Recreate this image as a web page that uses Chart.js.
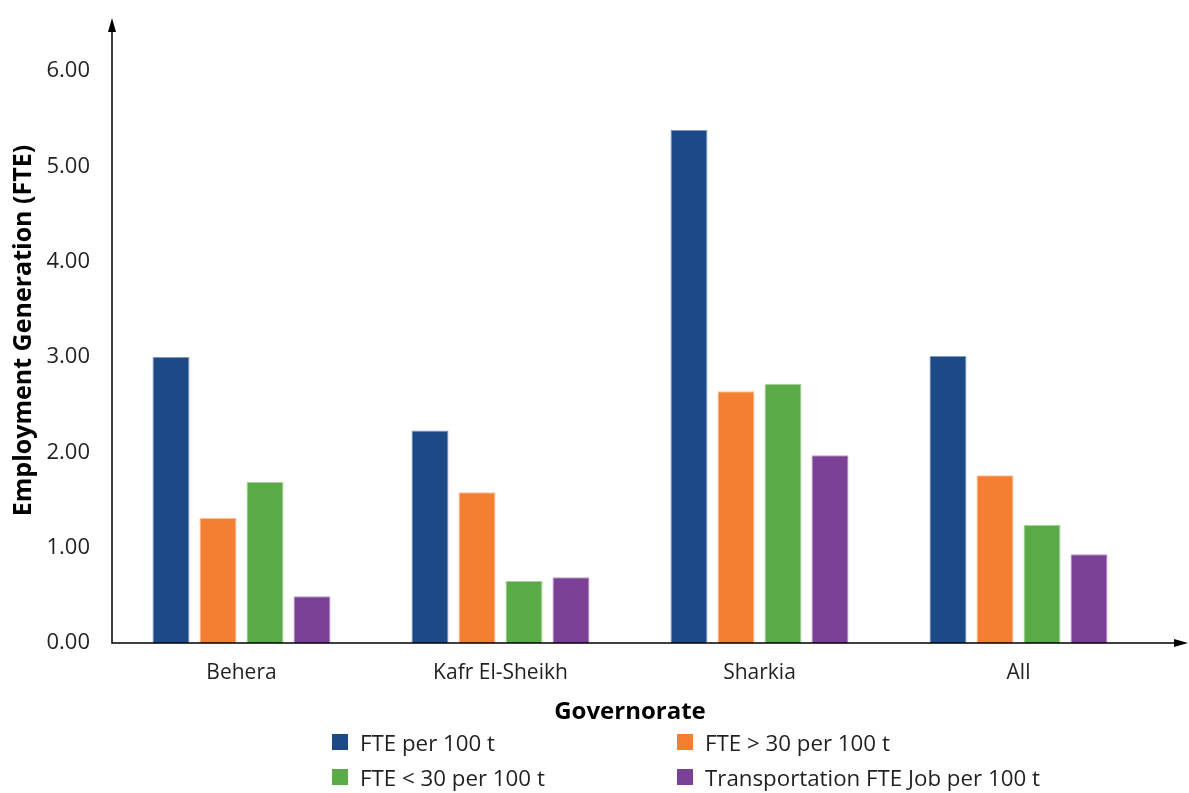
<!DOCTYPE html>
<html>
<head>
    <meta charset="UTF-8">
    <title>Employment Generation by Governorate</title>
    <script src="https://cdn.jsdelivr.net/npm/chart.js"></script>
    <style>
        body {
            margin: 0;
            padding: 0;
            background: #fff;
            font-family: "Open Sans", sans-serif;
        }
        .wrap {
            position: relative;
            width: 1189px;
            height: 793px;
        }
        #legend {
            position: absolute;
            left: 332px;
            top: 729px;
            display: grid;
            grid-template-columns: 345px 400px;
            row-gap: 9px;
            font-size: 22.3px;
            color: #231f20;
        }
        .item {
            display: flex;
            align-items: center;
            height: 26px;
            white-space: nowrap;
        }
        .box {
            width: 16px;
            height: 16px;
            margin-right: 12px;
        }
    </style>
</head>
<body>
    <div class="wrap">
        <canvas id="chart" width="1189" height="793"></canvas>
        <div id="legend"></div>
    </div>

    <script>
        // data
        const governorates = ['Behera', 'Kafr El-Sheikh', 'Sharkia', 'All'];
        const seriesNames = ['FTE per 100 t', 'FTE > 30 per 100 t', 'FTE < 30 per 100 t', 'Transportation FTE Job per 100 t'];
        const ftePer100 = [3.00, 2.23, 5.38, 3.01];
        const fteOver30 = [1.31, 1.58, 2.64, 1.76];
        const fteUnder30 = [1.69, 0.65, 2.72, 1.24];
        const transportFte = [0.49, 0.69, 1.97, 0.93];
        const yTicks = [0, 1, 2, 3, 4, 5, 6];

        const colors = ['#1c4a87', '#f47f32', '#5aab47', '#7a4196'];
        const borders = ['#7f9bc4', '#fbc09a', '#a8d49c', '#b99ccb'];
        const values = [ftePer100, fteOver30, fteUnder30, transportFte];

        // axis lines with arrow heads
        const arrowAxes = {
            id: 'arrowAxes',
            afterDraw(chart) {
                const c = chart.ctx;
                const a = chart.chartArea;
                const x0 = a.left, y0 = a.bottom;
                const top = a.top, right = chart.width - 1;
                c.save();
                c.strokeStyle = '#000';
                c.fillStyle = '#000';
                c.lineWidth = 1.5;
                c.beginPath();
                c.moveTo(x0, top + 6);
                c.lineTo(x0, y0);
                c.lineTo(right - 6, y0);
                c.stroke();
                c.beginPath();
                c.moveTo(x0, top);
                c.lineTo(x0 - 4, top + 14);
                c.lineTo(x0 + 4, top + 14);
                c.closePath();
                c.fill();
                c.beginPath();
                c.moveTo(right, y0);
                c.lineTo(right - 14, y0 - 4);
                c.lineTo(right - 14, y0 + 4);
                c.closePath();
                c.fill();
                c.restore();
            }
        };

        const ctx = document.getElementById('chart').getContext('2d');
        const chart = new Chart(ctx, {
            type: 'bar',
            data: {
                labels: governorates,
                datasets: seriesNames.map((name, i) => ({
                    label: name,
                    data: values[i],
                    backgroundColor: colors[i],
                    borderColor: borders[i],
                    borderWidth: 1,
                    categoryPercentage: 0.726,
                    barPercentage: 0.787
                }))
            },
            options: {
                responsive: false,
                animation: false,
                layout: {
                    padding: { top: 18, right: 41, bottom: 60, left: 0 }
                },
                plugins: {
                    legend: { display: false },
                    tooltip: { enabled: false }
                },
                scales: {
                    x: {
                        grid: { display: false, drawTicks: false },
                        border: { display: false },
                        ticks: {
                            color: '#231f20',
                            font: { family: 'Open Sans', size: 21 },
                            padding: 17
                        },
                        title: {
                            display: true,
                            text: 'Governorate',
                            color: '#000',
                            font: { family: 'Open Sans', size: 24, weight: 'bold' },
                            padding: { top: 0, bottom: 6 }
                        },
                        afterFit: s => {
                            s.height = 90;
                            s.paddingLeft = 0;
                            s.paddingRight = 0;
                        }
                    },
                    y: {
                        min: 0,
                        max: 6.556,
                        grid: { display: false, drawTicks: false },
                        border: { display: false },
                        afterBuildTicks: s => { s.ticks = yTicks.map(v => ({ value: v })); },
                        ticks: {
                            color: '#231f20',
                            font: { family: 'Open Sans', size: 22 },
                            padding: 22,
                            callback: v => v.toFixed(2)
                        },
                        title: {
                            display: true,
                            text: 'Employment Generation (FTE)',
                            color: '#000',
                            font: { family: 'Open Sans', size: 25, weight: 'bold' },
                            padding: { top: 9, bottom: 0 }
                        },
                        afterFit: s => {
                            s.width = 112;
                            s.paddingTop = 0;
                            s.paddingBottom = 0;
                        }
                    }
                }
            },
            plugins: [arrowAxes]
        });

        // legend in two columns
        const legend = document.getElementById('legend');
        seriesNames.forEach((name, i) => {
            const item = document.createElement('div');
            item.className = 'item';
            item.innerHTML = '<span class="box" style="background:' + colors[i] + '"></span>' + name.replace(/</g, '&lt;').replace(/>/g, '&gt;');
            legend.appendChild(item);
        });
    </script>
</body>
</html>
